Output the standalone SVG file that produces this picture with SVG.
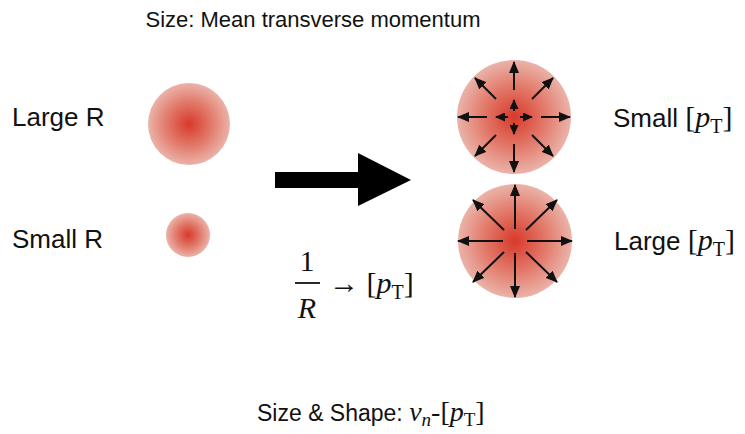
<svg xmlns="http://www.w3.org/2000/svg" width="745" height="434" viewBox="0 0 745 434">
<style>
.sans{font-family:"Liberation Sans",Arial,sans-serif;fill:#111}
.serif{font-family:"Liberation Serif","Times New Roman",serif;fill:#111}
.it{font-style:italic}
.ar{stroke:#111;stroke-width:2;fill:none;marker-end:url(#ah)}
.ars{stroke:#111;stroke-width:2;fill:none;marker-end:url(#ahs)}
</style>
<defs>
<radialGradient id="blob" cx="0.5" cy="0.5" r="0.5">
<stop offset="0" stop-color="#d8392a"/>
<stop offset="0.55" stop-color="#e27a6b"/>
<stop offset="1" stop-color="#ebb3a9"/>
</radialGradient>
<marker id="ah" markerUnits="userSpaceOnUse" markerWidth="12" markerHeight="10" refX="11" refY="5" orient="auto">
<path d="M0,0 L12,5 L0,10 z" fill="#111"/>
</marker>
<marker id="ahs" markerUnits="userSpaceOnUse" markerWidth="10" markerHeight="9" refX="9" refY="4.5" orient="auto">
<path d="M0,0 L10,4.5 L0,9 z" fill="#111"/>
</marker>
</defs>
<rect width="745" height="434" fill="#fff"/>

<text class="sans" x="313" y="27" font-size="22" text-anchor="middle">Size: Mean transverse momentum</text>

<g id="large-r">
<text class="sans" x="12" y="126" font-size="26">Large R</text>
<circle cx="189" cy="124" r="41" fill="url(#blob)"/>
</g>
<g id="small-r">
<text class="sans" x="12" y="248" font-size="26">Small R</text>
<circle cx="188" cy="235" r="22" fill="url(#blob)"/>
</g>

<g id="big-arrow">
<path d="M275,172 H358 V153 L411,180 L358,206 V188 H275 z" fill="#000"/>
</g>

<g id="formula">
<text class="serif" x="307" y="271" font-size="30" text-anchor="middle">1</text>
<line x1="295" y1="283" x2="320" y2="283" stroke="#111" stroke-width="1.8"/>
<text class="serif it" x="307" y="318" font-size="30" text-anchor="middle">R</text>
<text class="serif" x="329" y="293" font-size="30">→ [<tspan class="it">p</tspan><tspan font-size="20" dy="6">T</tspan><tspan dy="-6">]</tspan></text>
</g>

<g id="small-pt">
<circle cx="514" cy="117" r="57" fill="url(#blob)"/>
<g transform="translate(514,117)">
<line class="ar" x1="0" y1="-27" x2="0" y2="-55"/>
<line class="ar" x1="0" y1="27" x2="0" y2="55"/>
<line class="ar" x1="-27" y1="0" x2="-56" y2="0"/>
<line class="ar" x1="27" y1="0" x2="56" y2="0"/>
<line class="ar" x1="-18" y1="-18" x2="-39" y2="-39"/>
<line class="ar" x1="18" y1="-18" x2="39" y2="-39"/>
<line class="ar" x1="-18" y1="18" x2="-39" y2="39"/>
<line class="ar" x1="18" y1="18" x2="39" y2="39"/>
<line class="ars" x1="0" y1="-6" x2="0" y2="-17"/>
<line class="ars" x1="0" y1="6" x2="0" y2="17"/>
<line class="ars" x1="-6" y1="0" x2="-18" y2="0"/>
<line class="ars" x1="6" y1="0" x2="18" y2="0"/>
</g>
<text class="sans" x="613" y="127" font-size="26">Small <tspan class="serif" font-size="30">[<tspan class="it">p</tspan><tspan font-size="20" dy="6">T</tspan><tspan dy="-6">]</tspan></tspan></text>
</g>

<g id="large-pt">
<circle cx="515" cy="241" r="57" fill="url(#blob)"/>
<g transform="translate(515,241)">
<line class="ar" x1="0" y1="-12" x2="0" y2="-56"/>
<line class="ar" x1="0" y1="12" x2="0" y2="56"/>
<line class="ar" x1="-12" y1="0" x2="-57" y2="0"/>
<line class="ar" x1="12" y1="0" x2="57" y2="0"/>
<line class="ar" x1="-11" y1="-11" x2="-42" y2="-41"/>
<line class="ar" x1="11" y1="-11" x2="42" y2="-41"/>
<line class="ar" x1="-11" y1="11" x2="-42" y2="41"/>
<line class="ar" x1="11" y1="11" x2="42" y2="41"/>
</g>
<text class="sans" x="614" y="250" font-size="26">Large <tspan class="serif" font-size="30">[<tspan class="it">p</tspan><tspan font-size="20" dy="6">T</tspan><tspan dy="-6">]</tspan></tspan></text>
</g>

<text class="sans" x="257" y="421" font-size="23">Size &amp; Shape: <tspan class="serif it" font-size="28">v</tspan><tspan class="serif it" font-size="19" dy="5">n</tspan><tspan class="serif" font-size="28" dy="-5">-[</tspan><tspan class="serif it" font-size="28">p</tspan><tspan class="serif" font-size="19" dy="5">T</tspan><tspan class="serif" font-size="28" dy="-5">]</tspan></text>
</svg>
